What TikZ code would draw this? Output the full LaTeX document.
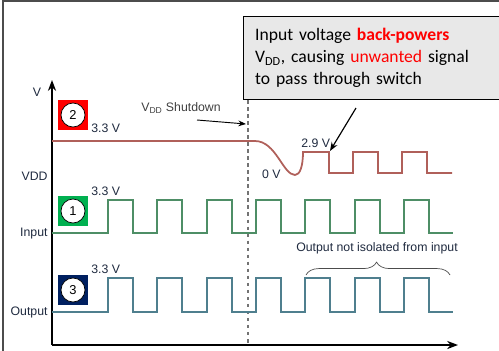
\documentclass[tikz,border=0pt]{standalone}
\usepackage{fontspec}
\setmainfont{Liberation Sans}
\newfontfamily\callfont{Carlito}
\usetikzlibrary{arrows.meta,positioning,decorations.pathreplacing}
\definecolor{vddc}{HTML}{B0605A}
\definecolor{inc}{HTML}{4E8E66}
\definecolor{outc}{HTML}{4F7F8E}
\definecolor{labc}{HTML}{1F2A3F}
\definecolor{badgegreen}{HTML}{00B050}
\definecolor{badgenavy}{HTML}{002060}
\tikzset{
  >=Stealth,
  font=\fontsize{10.5}{12}\selectfont,
  badge/.style  ={minimum size=0.9cm, inner sep=0pt, outer sep=0pt},
  num/.style    ={draw, circle, fill=white, line width=0.6pt, minimum size=0.72cm, inner sep=0pt, font=\fontsize{11}{12}\selectfont},
  lbl/.style    ={text=labc, inner sep=1pt},
  vddsig/.style ={line width=1.5pt, vddc},
  insig/.style  ={line width=1.5pt, inc},
  outsig/.style ={line width=1.5pt, outc},
  axis/.style   ={line width=1.4pt, ->},
  callbox/.style={draw, fill=black!9, line width=0.9pt, align=left, anchor=north west,
                  minimum width=7.9cm, minimum height=2.49cm, text width=7.2cm,
                  font=\callfont\fontsize{15}{18.7}\selectfont},
}

\begin{document}
\begin{tikzpicture}[x=0.03cm, y=-0.03cm]
  \useasboundingbox (0,0) rectangle (499,350);
  % frame of the page
  \draw[black!70, line width=1.2pt] (3,360) -- (3,1) -- (510,1);

  % axes
  \coordinate (o) at (52,345);
  \coordinate (ytip) at (52,80);
  \coordinate (xtip) at (458,345);
  \draw[axis] (o) -- (ytip);
  \draw[axis] (o) -- (xtip);
  \node[lbl] (vlab) at (37,92) {V};

  % badges
  \node[badge, fill=red] (b2) at (73,115) {};
  \node[num] at (b2) {2};
  \node[badge, fill=badgegreen] (b1) at (73,211) {};
  \node[num] at (b1) {1};
  \node[badge, fill=badgenavy] (b3) at (73,290) {};
  \node[num] at (b3) {3};

  % row labels
  \node[lbl, anchor=east] (lvdd) at (49,176) {VDD};
  \node[lbl, anchor=east] (lin) at (49,234) {Input};
  \node[lbl, anchor=east] (lout) at (49,312) {Output};
  \node[lbl, anchor=west] (h2) at (90,128) {3.3 V};
  \node[lbl, anchor=west] (h1) at (90,191) {3.3 V};
  \node[lbl, anchor=west] (h3) at (90,269) {3.3 V};
  \node[lbl, anchor=west] (h29) at (300,143) {2.9 V};
  \node[lbl, anchor=east] (h0) at (282,174) {0 V};

  % VDD shutdown marker
  \draw[black!55, dashed, line width=0.9pt] (248,100) -- (248,345);
  \node[lbl, text=black!75] (sd) at (181,108) {V\textsubscript{DD} Shutdown};
  \coordinate (sdtip) at (246,124);
  \draw[->, line width=0.8pt] (197,120) -- (sdtip);

  % signals
  \draw[vddsig] (52,141) -- (255,141) .. controls (276,141) and (283,175) .. (295,175)
    .. controls (300,175) and (303,166) .. (303,152)
    -- (329,152) -- (329,173) -- (353,173) -- (353,152) -- (378,152) -- (378,173)
    -- (402,173) -- (402,152) -- (427,152) -- (427,173) -- (452,173);
  \draw[insig] (52,233) -- (108,233)
    \foreach \k in {0,...,6}{ -- ++(0,-33) -- ++(25,0) -- ++(0,33) -- ++(24.33,0)};
  \draw[outsig] (52,312) -- (108,312)
    \foreach \k in {0,...,6}{ -- ++(0,-34) -- ++(25,0) -- ++(0,34) -- ++(24.33,0)};

  % callout
  \node[callbox] (callout) at (243,16)
    {Input voltage {\color{red}\bfseries back-powers}\\
     V\textsubscript{DD}, causing {\color{red}unwanted} signal\\
     to pass through switch};
  \coordinate (ctip) at (330,151);
  \draw[->, line width=1pt] (356,108) -- (ctip);

  % brace over the output
  \coordinate (bl) at (306,275);
  \coordinate (br) at (450,275);
  \draw[black!70, line width=0.6pt, decorate, decoration={brace, amplitude=11pt, aspect=0.49}] (bl) -- (br);
  \node[lbl] (iso) at (377,248) {Output not isolated from input};
\end{tikzpicture}
\end{document}
